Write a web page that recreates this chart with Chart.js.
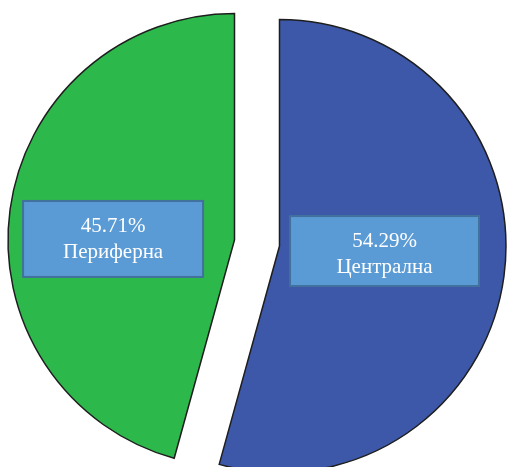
<!DOCTYPE html>
<html>
<head>
<meta charset="utf-8">
<script src="https://cdn.jsdelivr.net/npm/chart.js@4/dist/chart.umd.min.js"></script>
<style>
  html, body { margin: 0; padding: 0; background: #ffffff; }
  canvas { display: block; }
</style>
</head>
<body>
<canvas id="chart" width="507" height="467"></canvas>
<script>
// Distribution by location (percent)
const categories = ['Централна', 'Периферна'];
const shares = [54.29, 45.71];

const sliceColors = ['#3D58A9', '#2DB84B'];
// How far each slice is pulled out from the centre, in pixels
const sliceExplode = [22.7, 22.7];

// Value boxes: placement along each slice's mid-angle plus box size
const boxLayout = [
  { k: 0.468, dy: 5, ty: 3, w: 189, h: 70 },
  { k: 0.541, dy: -1, ty: 1, w: 180, h: 76 }
];

function sliceCentre(arc, i) {
  const p = arc.getProps(['x', 'y', 'startAngle', 'endAngle', 'outerRadius'], true);
  const mid = (p.startAngle + p.endAngle) / 2;
  return {
    mid,
    r: p.outerRadius,
    x: p.x + Math.cos(mid) * sliceExplode[i],
    y: p.y + Math.sin(mid) * sliceExplode[i]
  };
}

// Draws each arc translated outwards along its mid-angle (rigid explode)
const explodedSlices = {
  id: 'explodedSlices',
  beforeDatasetDraw(chart, args) {
    const ctx = chart.ctx;
    args.meta.data.forEach((arc, i) => {
      const c = sliceCentre(arc, i);
      ctx.save();
      ctx.translate(c.x - arc.x, c.y - arc.y);
      arc.draw(ctx);
      ctx.restore();
    });
    return false;
  }
};

const valueBoxes = {
  id: 'valueBoxes',
  afterDatasetsDraw(chart) {
    const ctx = chart.ctx;
    const meta = chart.getDatasetMeta(0);
    meta.data.forEach((arc, i) => {
      const c = sliceCentre(arc, i);
      const L = boxLayout[i];
      const bx = c.x + Math.cos(c.mid) * c.r * L.k;
      const by = c.y + L.dy;

      ctx.save();
      ctx.fillStyle = '#5B9BD5';
      ctx.strokeStyle = '#41719C';
      ctx.lineWidth = 2;
      ctx.fillRect(bx - L.w / 2, by - L.h / 2, L.w, L.h);
      ctx.strokeRect(bx - L.w / 2, by - L.h / 2, L.w, L.h);

      ctx.fillStyle = '#ffffff';
      ctx.font = '21px "Liberation Serif", "Times New Roman", serif';
      ctx.textAlign = 'center';
      ctx.textBaseline = 'middle';
      const value = chart.data.datasets[0].data[i];
      ctx.fillText(value.toFixed(2) + '%', bx, by - 13 + L.ty);
      ctx.fillText(chart.data.labels[i], bx, by + 13 + L.ty);
      ctx.restore();
    });
  }
};

new Chart(document.getElementById('chart'), {
  type: 'pie',
  data: {
    labels: categories,
    datasets: [{
      data: shares,
      backgroundColor: sliceColors,
      borderColor: '#1E1E1E',
      borderWidth: 1.5,
      borderJoinStyle: 'miter',
      radius: 226.5
    }]
  },
  options: {
    responsive: false,
    animation: false,
    layout: { padding: { left: 7, right: 0, top: 19, bottom: 0 } },
    plugins: {
      legend: { display: false },
      tooltip: { enabled: false }
    }
  },
  plugins: [explodedSlices, valueBoxes]
});
</script>
</body>
</html>
